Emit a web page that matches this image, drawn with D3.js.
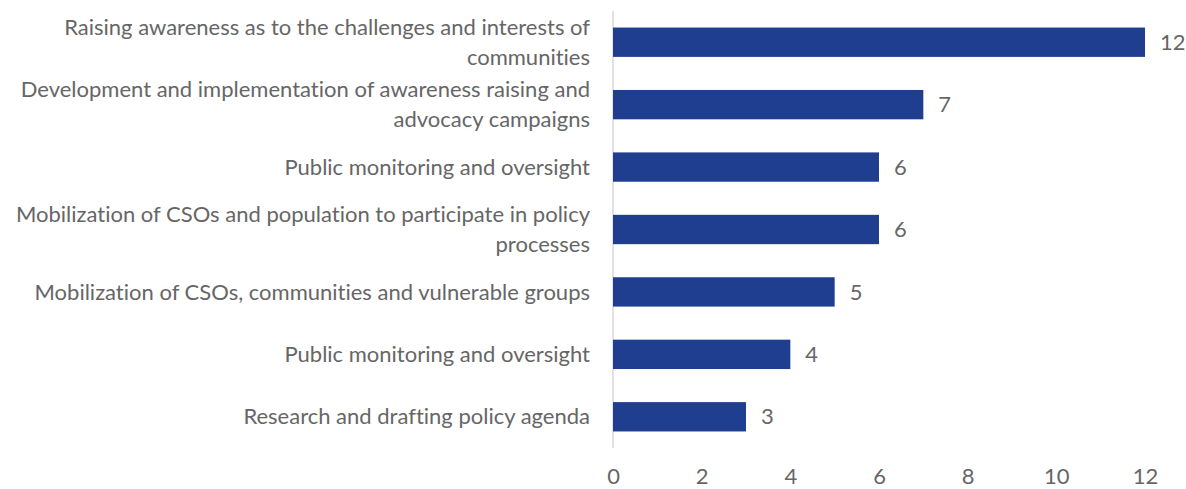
<!DOCTYPE html>
<html>
  <head>
    <title>Bar chart</title>
    <script type="text/javascript" src="https://cdnjs.cloudflare.com/ajax/libs/d3/7.8.5/d3.min.js"></script>
    <style>
      body { margin: 0; background: #fff; overflow: hidden; }
      svg { display: block; }
      text { font-family: Lato, "Open Sans", sans-serif; fill: #666666; font-variant-ligatures: none; }
    </style>
  </head>
  <body>
  <script>

    // each category is stored as its display lines
    var categories = [
      ['Raising awareness as to the challenges and interests of', 'communities'],
      ['Development and implementation of awareness raising and', 'advocacy campaigns'],
      ['Public monitoring and oversight'],
      ['Mobilization of CSOs and population to participate in policy', 'processes'],
      ['Mobilization of CSOs, communities and vulnerable groups'],
      ['Public monitoring and oversight '],
      ['Research and drafting policy agenda']
    ];
    var values = [12, 7, 6, 6, 5, 4, 3];
    var tickValues = [0, 2, 4, 6, 8, 10, 12];

    var keys = categories.map(function(d) { return d.join(' '); });
    var fontSize = 22;

    var svg = d3.select('body')
              .append('svg')
              .attr('height', 489)
              .attr('width', 1186);

    var x = d3.scaleLinear()
      .range([613, 1145])
      .domain([0, 12]);

    var y = d3.scaleBand()
      .range([11, 448])
      .domain(keys)
      .paddingInner(0.53)
      .paddingOuter(0.265);

    // vertical axis line
    svg.append('line')
      .attr('x1', x(0)).attr('x2', x(0))
      .attr('y1', 11).attr('y2', 448)
      .attr('stroke', '#d9d9d9')
      .attr('stroke-width', 1.5);

    // bottom tick labels
    var xAxis = svg.append('g')
      .attr('transform', 'translate(0,448)')
      .call(d3.axisBottom(x).tickValues(tickValues).tickSize(0).tickPadding(0));
    xAxis.select('.domain').remove();
    xAxis.selectAll('text')
      .attr('y', 28)
      .attr('dy', '0.35em')
      .attr('font-size', fontSize)
      .style('font-family', 'Lato, "Open Sans", sans-serif')
      .style('fill', '#666666');

    svg.selectAll('rect.bar')
      .data(values)
      .enter()
      .append('rect')
      .attr('class', 'bar')
      .attr('x', x(0))
      .attr('y', function(d, i) { return y(keys[i]); })
      .attr('height', y.bandwidth())
      .attr('width', function(d) { return x(d) - x(0); })
      .attr('fill', '#1f3e8f');

    // value labels
    svg.selectAll('text.val')
      .data(values)
      .enter()
      .append('text')
      .attr('class', 'val')
      .attr('x', function(d) { return x(d) + 15; })
      .attr('y', function(d, i) { return y(keys[i]) + y.bandwidth() / 2; })
      .attr('dy', '0.35em')
      .attr('font-size', fontSize)
      .text(function(d) { return d; });

    // category labels, right aligned
    var lineH = 30;
    var labels = svg.selectAll('text.cat')
      .data(categories)
      .enter()
      .append('text')
      .attr('class', 'cat')
      .attr('text-anchor', 'end')
      .attr('font-size', fontSize)
      .attr('transform', function(d, i) {
        var cy = y(keys[i]) + y.bandwidth() / 2;
        return 'translate(590,' + cy + ')';
      });

    labels.selectAll('tspan')
      .data(function(d) { return d; })
      .enter()
      .append('tspan')
      .attr('x', 0)
      .attr('y', function(d, j, nodes) {
        var n = nodes.length;
        return (j - (n - 1) / 2) * lineH;
      })
      .attr('dy', '0.35em')
      .text(function(d) { return d; });

  </script>
 </body>
</html>
